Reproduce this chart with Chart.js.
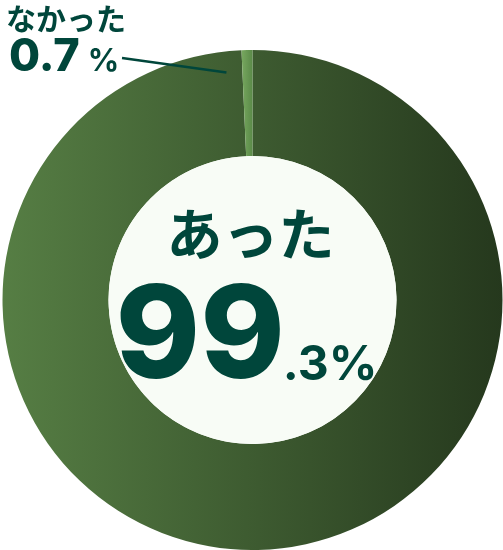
<!DOCTYPE html>
<html>
<head>
<meta charset="utf-8">
<script src="https://cdn.jsdelivr.net/npm/chart.js@4.4.0/dist/chart.umd.min.js"></script>
<style>
  html, body { margin: 0; padding: 0; background: #ffffff; }
  #wrap { width: 503px; height: 550px; position: relative; }
</style>
</head>
<body>
<div id="wrap"><canvas id="donut"></canvas></div>
<script>
// data
const labels = ['あった', 'なかった'];
const values = [99.3, 0.7];
const valueText = ['99.3', '0.7'];

const textColor = '#00463b';
const jpFont = '"Noto Sans CJK JP", sans-serif';
const numFont = 'Inter, "Noto Sans", sans-serif';

function ringGradient(ctx, area, from, to) {
    const g = ctx.createLinearGradient(area.left, 0, area.right, 0);
    g.addColorStop(0, from);
    g.addColorStop(1, to);
    return g;
}

const labelsPlugin = {
    id: 'donutLabels',
    afterDraw(chart) {
        const ctx = chart.ctx;
        const arcs = chart.getDatasetMeta(0).data;
        const big = arcs[0];
        const cx = big.x, cy = big.y;
        ctx.save();

        // inner disc
        ctx.beginPath();
        ctx.arc(cx, cy, big.innerRadius, 0, Math.PI * 2);
        ctx.fillStyle = '#f8fcf6';
        ctx.fill();

        // centre text
        ctx.fillStyle = textColor;
        ctx.textAlign = 'center';
        ctx.textBaseline = 'middle';
        ctx.font = 'bold 56px ' + jpFont;
        ctx.fillText(labels[0], cx - 2, cy - 66);

        ctx.textBaseline = 'alphabetic';
        const [intPart, decPart] = valueText[0].split('.');
        ctx.font = '800 128px ' + numFont;
        const wInt = ctx.measureText(intPart).width;
        ctx.font = '700 48px ' + numFont;
        const wDec = ctx.measureText('.' + decPart + '%').width;
        const startX = cx - 5 - (wInt + wDec) / 2;
        ctx.textAlign = 'left';
        ctx.font = '800 128px ' + numFont;
        ctx.fillText(intPart, startX, cy + 78);
        ctx.font = '700 48px ' + numFont;
        ctx.fillText('.' + decPart + '%', startX + wInt - 2, cy + 80);

        // small slice label, top left
        ctx.font = 'bold 30px ' + jpFont;
        ctx.fillText(labels[1], 6, 30);
        ctx.font = '800 45px ' + numFont;
        ctx.fillText(valueText[1], 9, 71);
        const w07 = ctx.measureText(valueText[1]).width;
        ctx.font = '700 31px ' + numFont;
        ctx.fillText('%', 9 + w07 + 8, 71);

        // leader line to the slice
        const small = arcs[1];
        const ang = small.startAngle - 0.07;
        const r = small.outerRadius - 21;
        ctx.strokeStyle = textColor;
        ctx.lineWidth = 2.5;
        ctx.beginPath();
        ctx.moveTo(122, 58);
        ctx.lineTo(cx + r * Math.cos(ang), cy + r * Math.sin(ang));
        ctx.stroke();
        ctx.restore();
    }
};

const ctx = document.getElementById('donut').getContext('2d');
const donutChart = new Chart(ctx, {
    type: 'doughnut',
    data: {
        labels: labels,
        datasets: [{
            data: values,
            borderWidth: 0,
            backgroundColor: function(context) {
                const area = context.chart.chartArea;
                if (!area) return '#3d5a30';
                if (context.dataIndex === 0) {
                    return ringGradient(context.chart.ctx, area, '#567e44', '#25381d');
                }
                const c = context.chart.ctx;
                const g = c.createLinearGradient(area.left + area.width / 2 - 14, 0, area.left + area.width / 2, 0);
                g.addColorStop(0, '#80b066');
                g.addColorStop(1, '#5a8a48');
                return g;
            }
        }]
    },
    options: {
        responsive: true,
        maintainAspectRatio: false,
        animation: false,
        cutout: '57.6%',
        layout: { padding: { top: 50, left: 2, right: 0, bottom: 0 } },
        plugins: {
            legend: { display: false },
            tooltip: { enabled: false }
        }
    },
    plugins: [labelsPlugin]
});
</script>
</body>
</html>
